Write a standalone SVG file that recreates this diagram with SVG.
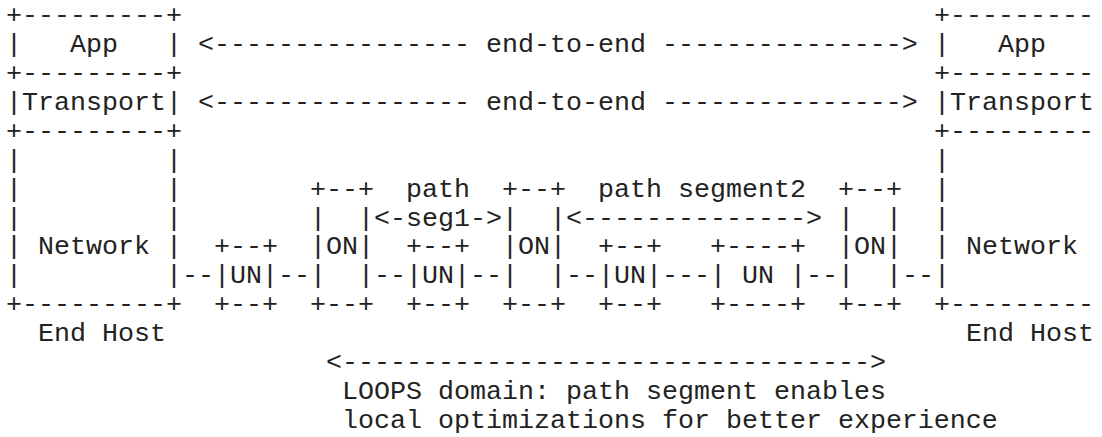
<svg xmlns="http://www.w3.org/2000/svg" width="1102" height="437" viewBox="0 0 1102 437">
<style>
text{font-family:"Courier New","Liberation Mono",monospace;font-size:26.66px;fill:#222;white-space:pre}
</style>
<rect width="1102" height="437" fill="#fff"/>
<g id="host-left" xml:space="preserve">
<text x="6" y="23">+---------+</text>
<text x="6" y="51.9">|   App   |</text>
<text x="6" y="80.9">+---------+</text>
<text x="6" y="109.8">|Transport|</text>
<text x="6" y="138.7">+---------+</text>
<text x="6" y="167.7">|         |</text>
<text x="6" y="196.6">|         |</text>
<text x="6" y="225.5">|         |</text>
<text x="6" y="254.4">| Network |</text>
<text x="6" y="283.4">|         |</text>
<text x="6" y="312.3">+---------+</text>
<text x="38" y="341.2">End Host</text>
</g>
<g id="host-right" xml:space="preserve">
<text x="934" y="23">+---------</text>
<text x="934" y="51.9">|   App</text>
<text x="934" y="80.9">+---------</text>
<text x="934" y="109.8">|Transport</text>
<text x="934" y="138.7">+---------</text>
<text x="934" y="167.7">|</text>
<text x="934" y="196.6">|</text>
<text x="934" y="225.5">|</text>
<text x="934" y="254.4">| Network</text>
<text x="934" y="283.4">|</text>
<text x="934" y="312.3">+---------</text>
<text x="966" y="341.2">End Host</text>
</g>
<g id="un1">
<text x="214" y="254.4">+--+</text>
<text x="214" y="283.4">|UN|</text>
<text x="214" y="312.3">+--+</text>
</g>
<g id="on1" xml:space="preserve">
<text x="310" y="196.6">+--+</text>
<text x="310" y="225.5">|  |</text>
<text x="310" y="254.4">|ON|</text>
<text x="310" y="283.4">|  |</text>
<text x="310" y="312.3">+--+</text>
</g>
<g id="un2">
<text x="406" y="254.4">+--+</text>
<text x="406" y="283.4">|UN|</text>
<text x="406" y="312.3">+--+</text>
</g>
<g id="on2" xml:space="preserve">
<text x="502" y="196.6">+--+</text>
<text x="502" y="225.5">|  |</text>
<text x="502" y="254.4">|ON|</text>
<text x="502" y="283.4">|  |</text>
<text x="502" y="312.3">+--+</text>
</g>
<g id="un3">
<text x="598" y="254.4">+--+</text>
<text x="598" y="283.4">|UN|</text>
<text x="598" y="312.3">+--+</text>
</g>
<g id="un4" xml:space="preserve">
<text x="710" y="254.4">+----+</text>
<text x="710" y="283.4">| UN |</text>
<text x="710" y="312.3">+----+</text>
</g>
<g id="on3" xml:space="preserve">
<text x="838" y="196.6">+--+</text>
<text x="838" y="225.5">|  |</text>
<text x="838" y="254.4">|ON|</text>
<text x="838" y="283.4">|  |</text>
<text x="838" y="312.3">+--+</text>
</g>
<g id="connectors" xml:space="preserve">
<text x="198" y="51.9">&lt;---------------- end-to-end ---------------&gt;</text>
<text x="198" y="109.8">&lt;---------------- end-to-end ---------------&gt;</text>
<text x="406" y="196.6">path</text>
<text x="598" y="196.6">path segment2</text>
<text x="374" y="225.5">&lt;-seg1-&gt;</text>
<text x="566" y="225.5">&lt;--------------&gt;</text>
<text x="182" y="283.4">--</text>
<text x="278" y="283.4">--</text>
<text x="374" y="283.4">--</text>
<text x="470" y="283.4">--</text>
<text x="566" y="283.4">--</text>
<text x="662" y="283.4">---</text>
<text x="806" y="283.4">--</text>
<text x="902" y="283.4">--</text>
<text x="326" y="370.2">&lt;---------------------------------&gt;</text>
</g>
<g id="domain-label">
<text x="342" y="399.1">LOOPS domain: path segment enables</text>
<text x="342" y="428">local optimizations for better experience</text>
</g>
</svg>
